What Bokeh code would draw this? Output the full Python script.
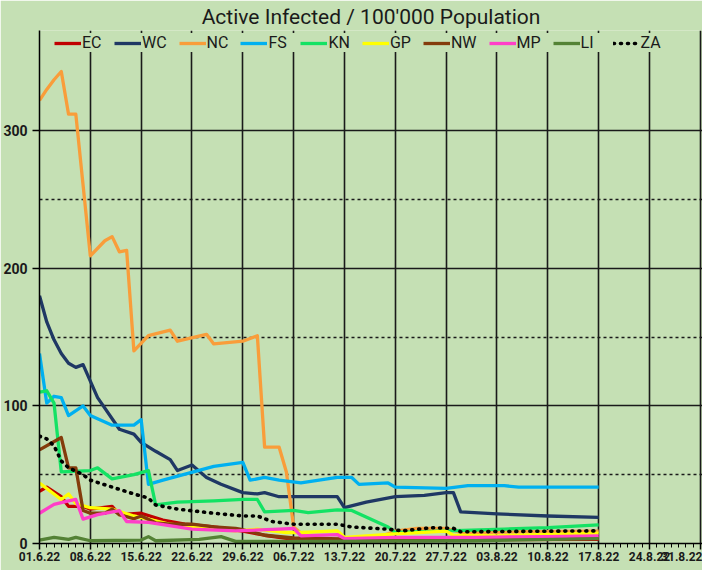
from bokeh.plotting import figure
from bokeh.models import ColumnDataSource, FixedTicker, Legend, LegendItem, Range1d
from bokeh.embed import file_html
from bokeh.resources import INLINE

# ---- data (days since 01.6.22) ----
tick_days = [0, 7, 14, 21, 28, 35, 42, 49, 56, 63, 70, 77, 84, 91]
tick_labels = ["01.6.22", "08.6.22", "15.6.22", "22.6.22", "29.6.22", "06.7.22",
               "13.7.22", "20.7.22", "27.7.22", "03.8.22", "10.8.22", "17.8.22",
               "24.8.22", "31.8.22"]

ec_days = [0, 1, 3, 4, 6, 7, 10, 11, 14, 17, 20, 24, 28, 31, 35, 45, 77]
ec_vals = [38, 41, 34, 27, 27, 25, 27, 21, 22, 17, 14, 12, 9, 6, 3, 2.5, 3]

wc_days = [0, 1, 2, 3, 4, 5, 6, 8, 11, 13, 14, 16, 18, 19, 21, 23, 25, 28, 30, 31, 33,
           41, 42, 45, 49, 53, 56, 57, 58, 63, 70, 77]
wc_vals = [180, 161, 148, 138, 131, 128, 130, 106, 83, 79.5, 73.5, 67, 61, 53, 57, 48,
           43, 37, 36, 37, 34, 34, 26, 30, 34, 35, 37, 37, 23, 21.5, 20, 19]

nc_days = [0, 1, 2, 3, 4, 5, 7, 9, 10, 11, 12, 13, 15, 18, 19, 23, 24, 28, 30, 31, 33,
           34, 35, 37, 40, 46, 49, 52, 56, 58, 77]
nc_vals = [322, 330, 337, 343, 312, 312, 209, 220, 223, 212, 213, 140, 151, 155, 147,
           152, 145, 147, 151, 70, 70, 52, 12, 3, 2, 3, 9, 11, 11, 8, 9]

fs_days = [0, 1, 2, 3, 4, 6, 7, 10, 13, 14, 15, 17, 24, 28, 29, 31, 33, 36, 41, 43,
           44, 48, 49, 56, 59, 64, 66, 77]
fs_vals = [138, 102, 107, 106, 93, 100, 93, 86, 86, 90, 43, 46, 56, 59, 46, 48, 46, 44,
           48, 48, 43, 44, 41, 40, 42, 42, 41, 41]

kn_days = [0, 1, 2, 3, 7, 8, 10, 13, 15, 16, 19, 24, 28, 30, 31, 35, 37, 41, 43, 48,
           49, 55, 64, 70, 77]
kn_vals = [110, 111, 102, 52, 53, 55, 47, 50, 53, 28, 30, 31, 32, 32, 23, 24, 22.5,
           24.5, 24, 12, 8, 9, 10.5, 11.5, 13.5]

gp_days = [0, 3, 4, 5, 7, 10, 13, 16, 18, 22, 27, 30, 34, 36, 41, 42, 49, 56, 57, 63, 77]
gp_vals = [44, 32, 36, 29, 26, 25, 20, 16.5, 14, 11.6, 9.2, 10.4, 8, 8, 9.2, 4.5, 7, 9,
           6, 5.6, 7.5]

nw_days = [0, 3, 4, 5, 6, 7, 9, 10, 11, 13, 14, 16, 18, 21, 24, 27, 28, 31, 35, 45, 60, 77]
nw_vals = [68, 77, 55, 55, 24, 22, 22, 25, 21, 18, 20, 15, 14, 14, 12, 11, 10, 6, 4, 3,
           3, 4]

mp_days = [0, 2, 4, 5, 6, 8, 11, 12, 15, 21, 27, 33, 35, 36, 41, 42, 49, 60, 70, 77]
mp_vals = [22, 28.5, 31, 32, 17.7, 21, 23.8, 16, 15.3, 10.4, 9.2, 10.4, 11, 5.6, 6.5,
           3.6, 4.4, 4.5, 5, 5.6]

li_days = [0, 2, 4, 5, 7, 14, 15, 16, 22, 25, 27, 40, 60, 77]
li_vals = [2.5, 4.5, 3, 4.5, 2, 2.5, 5, 2, 3, 5, 1.5, 1.5, 2, 3.5]

za_days = [0, 1, 2, 3, 4, 6, 7, 10, 13, 15, 16, 19, 24, 28, 30, 32, 35, 41, 43, 48, 50,
           54, 57, 58, 77]
za_vals = [78, 76, 71, 60, 55, 50, 46, 41, 36, 33, 28, 25, 22, 20, 20, 16, 14, 14, 12,
           10.4, 9.2, 11.5, 11, 8.5, 9.2]

series = [
    ("EC", ec_days, ec_vals, "#C00000", None),
    ("WC", wc_days, wc_vals, "#1F3864", None),
    ("NC", nc_days, nc_vals, "#F99D3A", None),
    ("FS", fs_days, fs_vals, "#00B0F0", None),
    ("KN", kn_days, kn_vals, "#14E264", None),
    ("GP", gp_days, gp_vals, "#FFFF00", None),
    ("NW", nw_days, nw_vals, "#843C0C", None),
    ("MP", mp_days, mp_vals, "#FF3EC8", None),
    ("LI", li_days, li_vals, "#548235", None),
    ("ZA", za_days, za_vals, "#000000", "1 6"),
]

BG = "#C5E0B4"
FONT = "Roboto"

p = figure(width=702, height=570, output_backend="svg", toolbar_location=None,
           x_range=Range1d(0, 91.3), y_range=Range1d(0, 372.8),
           background_fill_color=BG, border_fill_color=BG,
           min_border_left=39, min_border_right=0, min_border_bottom=27,
           min_border_top=30)
p.outline_line_color = None

p.title.text = "Active Infected / 100'000 Population"
p.title.align = "center"
p.title.text_font = FONT
p.title.text_font_size = "21px"
p.title.text_font_style = "normal"
p.title.text_color = "#1a1a1a"
p.title.standoff = 4

items = []
for name, d, v, c, dash in series:
    src = ColumnDataSource(dict(x=d, y=v))
    if dash:
        r = p.line("x", "y", source=src, line_color=c, line_width=3.6,
                   line_dash=dash, line_cap="round")
    else:
        r = p.line("x", "y", source=src, line_color=c, line_width=3.3,
                   line_join="round")
    items.append(LegendItem(label=name, renderers=[r]))

legend = Legend(items=items, orientation="horizontal", location=(15, 491),
                label_text_font=FONT, label_text_font_size="16px",
                label_text_color="#1a1a1a", glyph_width=27, glyph_height=18,
                label_height=18, label_standoff=1, spacing=12, padding=3, margin=0,
                background_fill_color=BG, background_fill_alpha=1.0,
                border_line_color=None)
p.add_layout(legend)

xticker = FixedTicker(ticks=tick_days, minor_ticks=list(range(0, 92)))
yticker = FixedTicker(ticks=[0, 100, 200, 300], minor_ticks=[50, 150, 250])

p.xaxis.ticker = xticker
p.xaxis.major_label_overrides = {d: t for d, t in zip(tick_days, tick_labels)}
p.xaxis.major_label_text_font = FONT
p.xaxis.major_label_text_font_size = "12px"
p.xaxis.major_label_text_font_style = "bold"
p.xaxis.major_label_text_color = "#1a1a1a"
p.xaxis.major_tick_out = 6
p.xaxis.major_tick_in = 0
p.xaxis.minor_tick_out = 4
p.xaxis.minor_tick_in = 0
p.xaxis.major_label_standoff = 2
p.xaxis.axis_line_width = 1.5
p.xaxis.major_tick_line_width = 1.5

p.yaxis.ticker = yticker
p.yaxis.major_label_text_font = FONT
p.yaxis.major_label_text_font_size = "14px"
p.yaxis.major_label_text_font_style = "bold"
p.yaxis.major_label_text_color = "#1a1a1a"
p.yaxis.major_tick_out = 7
p.yaxis.major_tick_in = 0
p.yaxis.minor_tick_line_color = None
p.yaxis.major_label_standoff = 5
p.yaxis.axis_line_width = 1.5
p.yaxis.major_tick_line_width = 1.5

p.xgrid.ticker = FixedTicker(ticks=tick_days)
p.xgrid.grid_line_color = "#1a1a1a"
p.xgrid.grid_line_width = 1.6

p.ygrid.ticker = yticker
p.ygrid.grid_line_color = "#1a1a1a"
p.ygrid.grid_line_width = 1.6
p.ygrid.minor_grid_line_color = "#1a1a1a"
p.ygrid.minor_grid_line_width = 1.5
p.ygrid.minor_grid_line_dash = "3 3"

open("out.html", "w").write(file_html(p, INLINE))
